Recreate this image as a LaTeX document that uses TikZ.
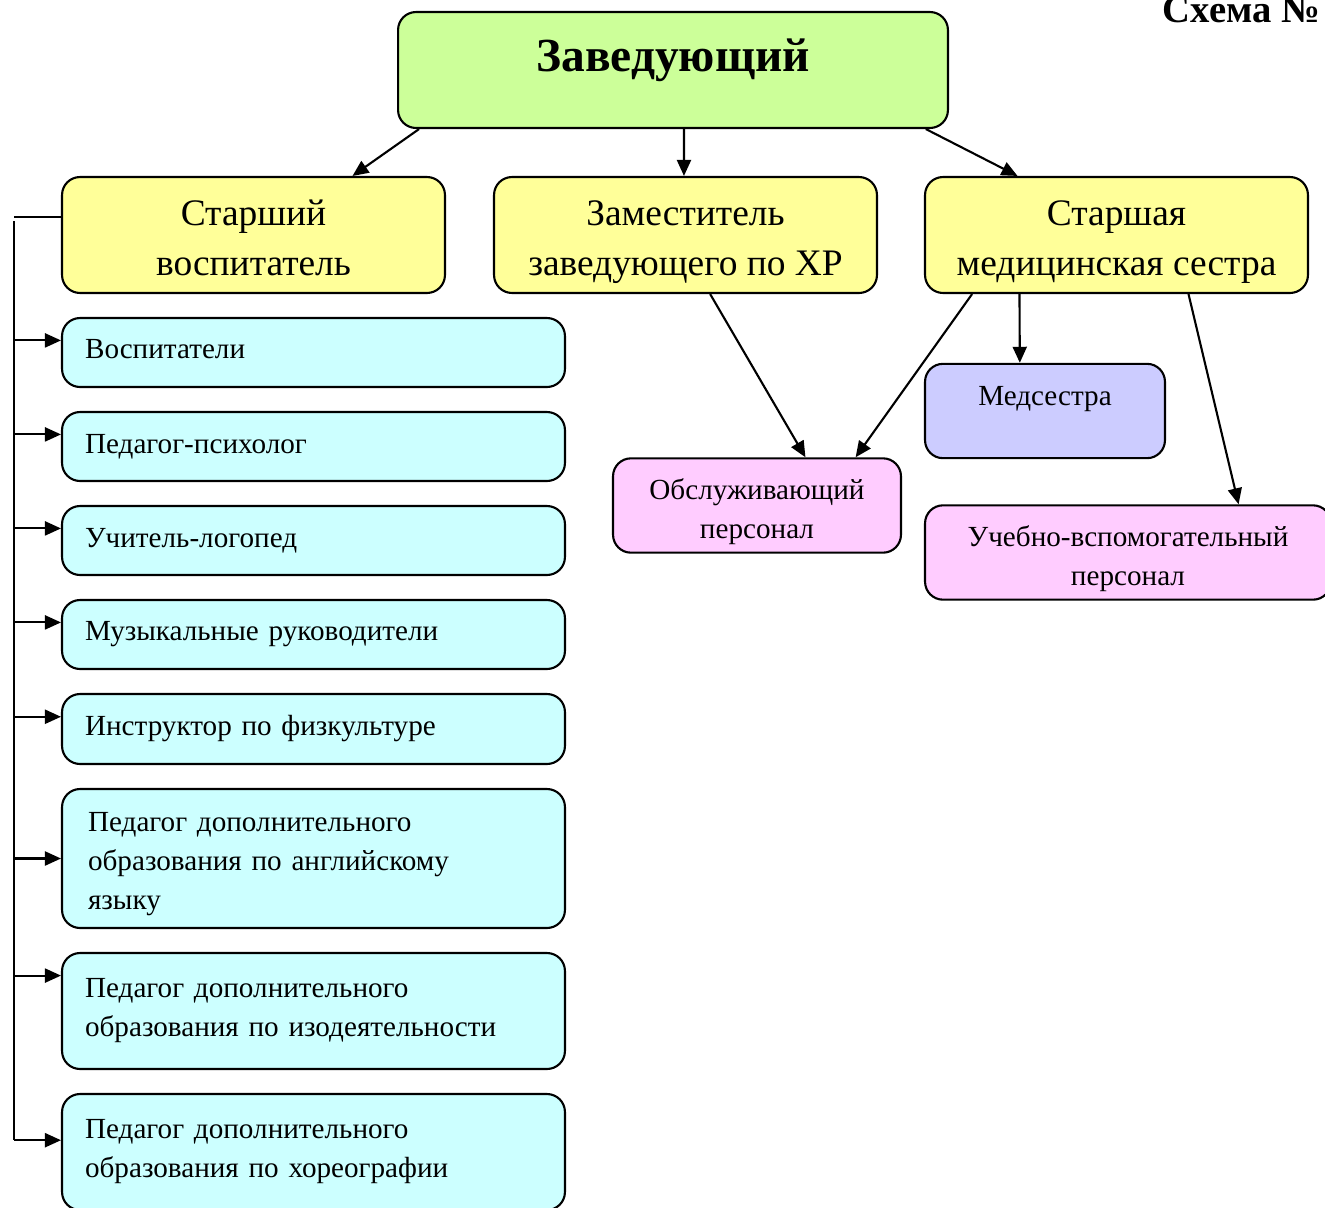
\documentclass[tikz,border=0pt]{standalone}
\usepackage{fontspec}
\setmainfont{Liberation Serif}
\usetikzlibrary{arrows.meta,calc}
\definecolor{bossgreen}{HTML}{CCFF99}
\definecolor{deputyyellow}{HTML}{FFFF99}
\definecolor{staffcyan}{HTML}{CCFFFF}
\definecolor{servicepink}{HTML}{FFCCFF}
\definecolor{nurseblue}{HTML}{CCCCFF}
% invisible rules that fix the height of the first and the depth of the last line
\newcommand{\tophold}[1]{\rule{0pt}{#1}}
\newcommand{\bothold}[1]{\rule[-#1]{0pt}{#1}}
\tikzset{
    >={Triangle[length=0.32cm,width=0.28cm]},
    every picture/.style={line width=1.2pt},
    box/.style={draw,rounded corners=0.36cm,inner sep=0pt,align=center},
    bossbox/.style={box,fill=bossgreen,minimum width=11cm,minimum height=2.32cm,
        font=\fontsize{27}{32}\selectfont\bfseries},
    deputy/.style={box,fill=deputyyellow,minimum width=7.66cm,minimum height=2.32cm,
        font=\fontsize{21.3}{28.5}\selectfont},
    staff/.style={box,fill=staffcyan,align=left,text width=9.14cm,inner xsep=0.46cm,
        font=\fontsize{16.6}{22.2}\selectfont},
    service/.style={box,fill=servicepink,minimum width=5.76cm,minimum height=1.86cm,
        font=\fontsize{16.6}{22.2}\selectfont},
    nurse/.style={service,fill=nurseblue,minimum width=4.8cm,minimum height=1.88cm}
}
\begin{document}
\begin{tikzpicture}[x=0.02cm,y=-0.02cm]
    \useasboundingbox (0,0) rectangle (1325,1207);
    % Head
    \node[bossbox] (boss) at (673,70) {\raisebox{0.6cm}{Заведующий}};
    \node[anchor=base east,font=\fontsize{22}{26}\selectfont\bfseries] (scheme) at (1327,22) {Схема №};

    % Deputies
    \node[deputy] (sv) at (253.5,235) {\tophold{27.5pt}Старший\\воспитатель\bothold{10pt}};
    \node[deputy] (zam) at (685.5,235) {\tophold{27.5pt}Заместитель\\заведующего по ХР\bothold{10pt}};
    \node[deputy] (sms) at (1116.5,235) {\tophold{27.5pt}Старшая\\медицинская сестра\bothold{10pt}};

    % Pedagogues
    \node[staff,minimum height=1.38cm] (p1) at (313.5,352.5) {Воспитатели\bothold{3.6pt}};
    \node[staff,minimum height=1.38cm] (p2) at (313.5,446.5) {Педагог-психолог};
    \node[staff,minimum height=1.38cm] (p3) at (313.5,540.5) {Учитель-логопед};
    \node[staff,minimum height=1.38cm] (p4) at (313.5,634.5) {Музыкальные руководители};
    \node[staff,minimum height=1.4cm] (p5) at (313.5,729) {Инструктор по физкультуре};
    \node[staff,minimum height=2.78cm,text width=9.02cm,inner xsep=0.52cm] (p6) at (313.5,858.5)
        {\tophold{17pt}Педагог дополнительного\\образования по английскому\\языку};
    \node[staff,minimum height=2.32cm] (p7) at (313.5,1011)
        {Педагог дополнительного\\образования по изодеятельности};
    \node[staff,minimum height=2.32cm] (p8) at (313.5,1152)
        {Педагог дополнительного\\образования по хореографии};

    % Other staff
    \node[service] (obs) at (757,505.5) {\tophold{23.5pt}Обслуживающий\\персонал\bothold{8pt}};
    \node[nurse] (med) at (1045,411) {\tophold{23.5pt}Медсестра\\\bothold{8pt}};
    \node[service,minimum width=8.12cm] (ucheb) at (1128,552.5)
        {\tophold{23.5pt}Учебно-вспомогательный\\персонал\bothold{8pt}};

    % Arrows from the head
    \draw[->] ($(boss.south west)!0.04!(boss.south east)$) -- ($(sv.north west)!0.757!(sv.north east)$);
    \draw[->] ($(boss.south west)!0.52!(boss.south east)$) -- ($(zam.north west)!0.496!(zam.north east)$);
    \draw[->] ($(boss.south west)!0.958!(boss.south east)$) -- ($(sms.north west)!0.243!(sms.north east)$);

    % Arrows to the staff
    \draw[->] ($(zam.south west)!0.564!(zam.south east)$) -- ($(obs.north west)!0.667!(obs.north east)$);
    \draw[->] ($(sms.south west)!0.125!(sms.south east)$) -- ($(obs.north west)!0.84!(obs.north east)$);
    \draw[->] ($(sms.south west)!0.248!(sms.south east)$) -- ($(med.north west)!0.396!(med.north east)$);
    \draw[->] ($(sms.south west)!0.687!(sms.south east)$) -- ($(ucheb.north west)!0.771!(ucheb.north east)$);

    % Bus on the left
    \coordinate (stub) at (14,217);
    \coordinate (bus) at (14,221);
    \draw (stub) -- (stub -| sv.west);
    \foreach \n/\f in {p1/0.33,p2/0.33,p3/0.33,p4/0.33,p5/0.33,p6/0.5,p7/0.2,p8/0.4}{
        \coordinate (\n-in) at ($(\n.north west)!\f!(\n.south west)$);
        \draw[->] (bus |- \n-in) -- (\n-in);
    }
    \draw (bus) -- (bus |- p8-in);
\end{tikzpicture}
\end{document}
